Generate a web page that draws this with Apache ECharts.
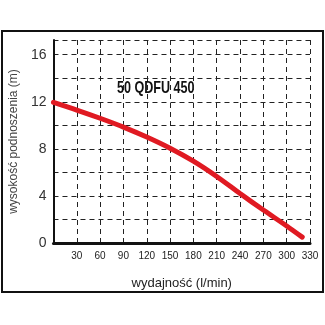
<!DOCTYPE html>
<html><head><meta charset="utf-8">
<script src="https://cdn.jsdelivr.net/npm/echarts@6/dist/echarts.min.js"></script>
<style>html,body{margin:0;padding:0;background:#fff}#c{width:325px;height:325px}</style>
</head><body><div id="c"></div>
<script>
var flow = [0, 30, 60, 90, 120, 150, 180, 210, 240, 270, 300, 320];
var head = [11.95, 11.3, 10.6, 9.85, 9.0, 8.05, 6.95, 5.65, 4.2, 2.8, 1.45, 0.5];
var modelName = '50 QDFU 450';
var xTitle = 'wydajność (l/min)';
var yTitle = 'wysokość podnoszenia (m)';

var chart = echarts.init(document.getElementById('c'));
var sans = "'Liberation Sans',Arial,sans-serif";
chart.setOption({
  animation: false,
  grid: {left: 42, right: 15, top: 40, bottom: 82},
  graphic: [
    {type: 'rect', shape: {x: 2, y: 31, width: 321, height: 261}, style: {fill: 'none', stroke: '#111', lineWidth: 2}, z: 0},
    {type: 'text', x: 117, y: 80, scaleX: 0.74, style: {text: modelName, font: "bold 17px " + sans, fill: '#111'}}
  ],
  xAxis: {
    type: 'value', min: 0, max: 330, interval: 30,
    name: xTitle, nameLocation: 'middle', nameGap: 34,
    nameTextStyle: {fontFamily: sans, fontSize: 13, color: '#222'},
    axisLine: {show: true, lineStyle: {color: '#111', width: 3}},
    axisTick: {show: false},
    axisLabel: {fontFamily: sans, fontSize: 10, color: '#222', margin: 8,
      formatter: function (v) { return v === 0 ? '' : String(v); }},
    splitLine: {show: true, lineStyle: {type: [5, 4], color: '#222', width: 1}}
  },
  yAxis: {
    type: 'value', min: 0, max: 17.25, interval: 2,
    name: yTitle, nameLocation: 'middle', nameGap: 26,
    nameTextStyle: {fontFamily: sans, fontSize: 12, color: '#444'},
    axisLine: {show: true, lineStyle: {color: '#111', width: 2}},
    axisTick: {show: false},
    axisLabel: {fontFamily: sans, fontSize: 14, color: '#333', margin: 7,
      formatter: function (v) { return (v % 4 === 0) ? String(v) : ''; }},
    splitLine: {show: true, lineStyle: {type: [5, 4], color: '#222', width: 1}}
  },
  series: [{
    type: 'line', smooth: 0.3, symbol: 'none',
    data: flow.map(function (f, i) { return [f, head[i]]; }),
    lineStyle: {color: '#e01a22', width: 5, cap: 'round'}
  }]
});
</script></body></html>
